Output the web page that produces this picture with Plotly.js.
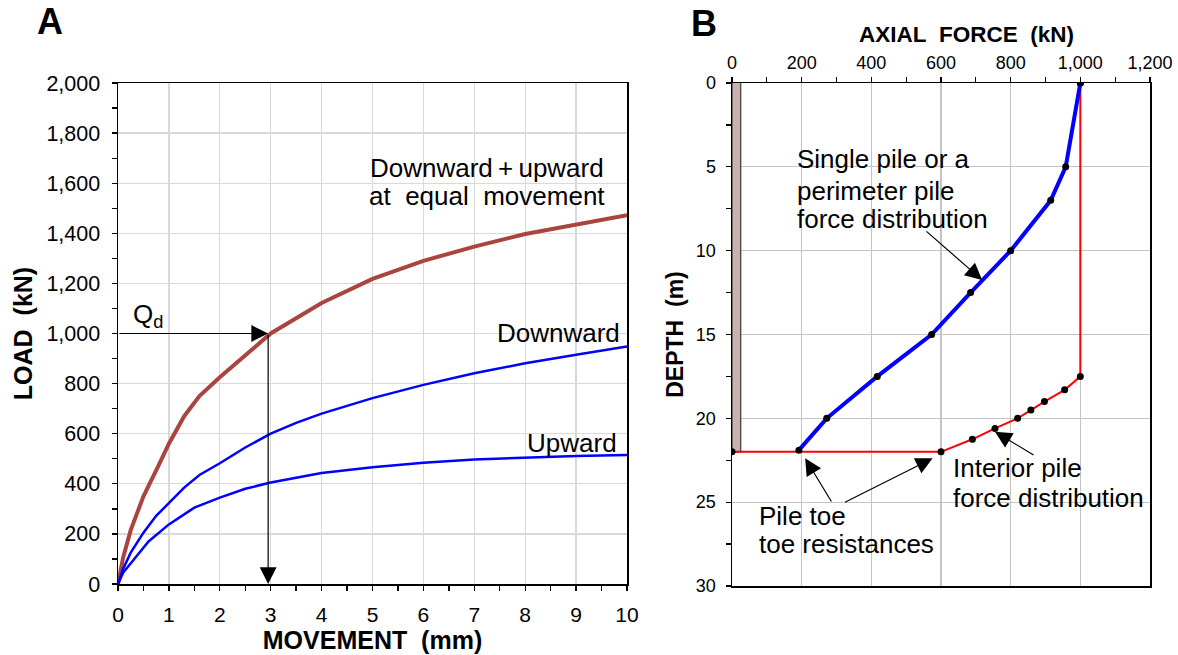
<!DOCTYPE html>
<html>
<head>
<meta charset="utf-8">
<script src="https://cdn.plot.ly/plotly-3.0.1.min.js"></script>
<style>html,body{margin:0;padding:0;background:#fff}#chart{width:1178px;height:655px}</style>
</head>
<body>
<div id="chart"></div>
<script>
// ---------- Panel A: load-movement ----------
const movementDown = [0, 0.1, 0.25, 0.5, 0.75, 1.0, 1.3, 1.6, 2.0, 2.5, 3.0, 3.5, 4.0, 5.0, 6.0, 7.0, 8.0, 9.0, 10.0];
const loadDownward = [0, 60, 125, 205, 272, 325, 385, 435, 482, 545, 600, 643, 680, 742, 795, 841, 881, 915, 948];

const movementUp = [0, 0.1, 0.3, 0.6, 1.0, 1.5, 2.0, 2.5, 3.0, 4.0, 5.0, 6.0, 7.0, 8.0, 9.0, 10.0];
const loadUpward = [0, 45, 95, 170, 238, 305, 345, 380, 405, 443, 466, 484, 497, 505, 511, 515];

const movementTotal = [0, 0.1, 0.25, 0.5, 0.8, 1.0, 1.3, 1.6, 2.0, 2.5, 3.0, 4.0, 5.0, 6.0, 7.0, 8.0, 9.0, 10.0];
const loadTotal = [0, 105, 215, 350, 475, 560, 670, 750, 825, 915, 1000, 1122, 1218, 1290, 1347, 1397, 1435, 1472];

const qdLoad = 1000;
const qdMovement = 2.95;

// ---------- Panel B: axial force vs depth ----------
const singleForce = [1000, 958, 915, 800, 685, 573, 417, 272, 192];
const singleDepth = [0, 5, 7, 10, 12.5, 15, 17.5, 20, 21.9];

const interiorForce = [0, 600, 690, 755, 820, 858, 897, 955, 1000, 1000];
const interiorDepth = [22, 22, 21.25, 20.6, 20, 19.5, 19, 18.3, 17.5, 0];

const pileLength = 22;
const pileWidth = 25;

const FONT = "Arial, 'Liberation Sans', sans-serif";

const traces = [
  {x: movementTotal, y: loadTotal, xaxis: 'x', yaxis: 'y', mode: 'lines',
   line: {color: '#A9443F', width: 4}, name: 'Downward + upward'},
  {x: movementDown, y: loadDownward, xaxis: 'x', yaxis: 'y', mode: 'lines',
   line: {color: '#0000FF', width: 2.5}, name: 'Downward'},
  {x: movementUp, y: loadUpward, xaxis: 'x', yaxis: 'y', mode: 'lines',
   line: {color: '#0000FF', width: 2.5}, name: 'Upward'},
  {x: interiorForce, y: interiorDepth, xaxis: 'x2', yaxis: 'y2', mode: 'lines+markers',
   line: {color: '#FF0000', width: 2}, marker: {color: '#000', size: 7}, name: 'Interior pile'},
  {x: singleForce, y: singleDepth, xaxis: 'x2', yaxis: 'y2', mode: 'lines+markers',
   line: {color: '#0000FF', width: 4}, marker: {color: '#000', size: 7}, name: 'Single pile'}
];

function textAnn(text, x, y, xref, yref, xanchor, size) {
  return {text: text, x: x, y: y, xref: xref, yref: yref, xanchor: xanchor, yanchor: 'middle',
          showarrow: false, font: {family: FONT, size: size, color: '#000'}};
}
function arrowAnn(xTail, yTail, xHead, yHead, xref, yref) {
  return {text: '', x: xHead, y: yHead, ax: xTail, ay: yTail, xref: xref, yref: yref,
          axref: xref, ayref: yref, showarrow: true, arrowhead: 2, arrowsize: 2.8,
          arrowwidth: 1.2, arrowcolor: '#000', standoff: 0, startstandoff: 0};
}

const annotations = [
  // panel letters
  {text: '<b>A</b>', x: 50/1178, y: 1 - 22/655, xref: 'paper', yref: 'paper', showarrow: false,
   xanchor: 'center', yanchor: 'middle', font: {family: FONT, size: 36, color: '#000'}},
  {text: '<b>B</b>', x: 704/1178, y: 1 - 24/655, xref: 'paper', yref: 'paper', showarrow: false,
   xanchor: 'center', yanchor: 'middle', font: {family: FONT, size: 36, color: '#000'}},
  // panel B axis title (offset to the right of the plot centre, as in the original)
  {text: '<b>AXIAL\u00A0 FORCE\u00A0 (kN)</b>', x: 966/1178, y: 1 - 35/655, xref: 'paper', yref: 'paper',
   showarrow: false, xanchor: 'center', yanchor: 'middle', font: {family: FONT, size: 22.5, color: '#000'}},
  // panel A labels
  textAnn('Downward\u2009+\u2009upward', 7.24, 1662, 'x', 'y', 'center', 26),
  textAnn('at\u00A0 equal\u00A0 movement', 7.24, 1549, 'x', 'y', 'center', 26),
  textAnn('Downward', 9.9, 1002, 'x', 'y', 'right', 26),
  textAnn('Upward', 9.85, 563, 'x', 'y', 'right', 26),
  textAnn('Q<sub>d</sub>', 0.25, 1070, 'x', 'y', 'left', 26),
  arrowAnn(0, qdLoad, qdMovement, qdLoad, 'x', 'y'),
  arrowAnn(qdMovement, qdLoad, qdMovement, 0, 'x', 'y'),
  // panel B labels
  textAnn('Single pile or a', 182, 4.55, 'x2', 'y2', 'left', 26),
  textAnn('perimeter pile', 182, 6.44, 'x2', 'y2', 'left', 26),
  textAnn('force distribution', 182, 8.13, 'x2', 'y2', 'left', 26),
  textAnn('Interior pile', 630, 22.96, 'x2', 'y2', 'left', 26),
  textAnn('force distribution', 630, 24.75, 'x2', 'y2', 'left', 26),
  textAnn('Pile toe', 73, 25.82, 'x2', 'y2', 'left', 26),
  textAnn('toe resistances', 73, 27.49, 'x2', 'y2', 'left', 26),
  arrowAnn(554, 8.77, 718, 11.75, 'x2', 'y2'),
  arrowAnn(870, 22.24, 755, 20.8, 'x2', 'y2'),
  arrowAnn(288, 25.05, 210, 22.38, 'x2', 'y2'),
  arrowAnn(320, 25.05, 576, 22.38, 'x2', 'y2')
];

const axisCommon = {
  showline: true, linecolor: '#000', linewidth: 1.5, mirror: true,
  ticks: 'outside', ticklen: 5, tickwidth: 1.3, tickcolor: '#000',
  zeroline: false, showgrid: true, fixedrange: true
};

const layout = {
  width: 1178, height: 655,
  margin: {l: 0, r: 0, t: 0, b: 0, pad: 0},
  paper_bgcolor: '#fff', plot_bgcolor: '#fff',
  showlegend: false,
  font: {family: FONT, color: '#000'},
  xaxis: Object.assign({}, axisCommon, {
    domain: [118/1178, 627/1178], anchor: 'y', range: [0, 10], tick0: 0, dtick: 1,
    gridcolor: '#D9D9D9', gridwidth: 1.3,
    minor: {dtick: 0.5, ticks: 'outside', ticklen: 5, tickwidth: 1.3, tickcolor: '#000', showgrid: false},
    tickfont: {family: FONT, size: 21, color: '#000'}, ticklabelstandoff: 6,
    title: {text: '<b>MOVEMENT\u00A0 (mm)</b>', font: {family: FONT, size: 25, color: '#000'}, standoff: 2}
  }),
  yaxis: Object.assign({}, axisCommon, {
    domain: [1 - 584/655, 1 - 83/655], anchor: 'x', range: [0, 2000], tick0: 0, dtick: 200,
    tickformat: ',', gridcolor: '#D9D9D9', gridwidth: 1.3,
    minor: {dtick: 100, ticks: 'outside', ticklen: 5, tickwidth: 1.3, tickcolor: '#000', showgrid: false},
    tickfont: {family: FONT, size: 21.5, color: '#000'}, ticklabelstandoff: 7,
    title: {text: '<b>LOAD\u00A0 (kN)</b>', font: {family: FONT, size: 25, color: '#000'}, standoff: 6}
  }),
  xaxis2: Object.assign({}, axisCommon, {
    domain: [732/1178, 1150/1178], anchor: 'y2', side: 'top', range: [0, 1200], tick0: 0, dtick: 200,
    tickformat: ',', gridcolor: '#C4C4C4', gridwidth: 1.3,
    minor: {dtick: 100, ticks: 'outside', ticklen: 5, tickwidth: 1.3, tickcolor: '#000', showgrid: false},
    tickfont: {family: FONT, size: 18, color: '#000'}, ticklabelstandoff: 0
  }),
  yaxis2: Object.assign({}, axisCommon, {
    domain: [1 - 586/655, 1 - 83/655], anchor: 'x2', range: [30, 0], tick0: 0, dtick: 5,
    gridcolor: '#C4C4C4', gridwidth: 1.3,
    minor: {dtick: 2.5, ticks: 'outside', ticklen: 5, tickwidth: 1.3, tickcolor: '#000', showgrid: false},
    tickfont: {family: FONT, size: 18, color: '#000'}, ticklabelstandoff: 6,
    title: {text: '<b>DEPTH\u00A0 (m)</b>', font: {family: FONT, size: 23, color: '#000'}, standoff: 6}
  }),
  shapes: [
    {type: 'rect', xref: 'x2', yref: 'y2', x0: 0, x1: pileWidth, y0: -0.25, y1: pileLength,
     fillcolor: '#C8B2B0', line: {color: '#3A3A3A', width: 1.2}, layer: 'between'}
  ],
  annotations: annotations
};

Plotly.newPlot('chart', traces, layout, {displayModeBar: false, staticPlot: true});
</script>
</body>
</html>
